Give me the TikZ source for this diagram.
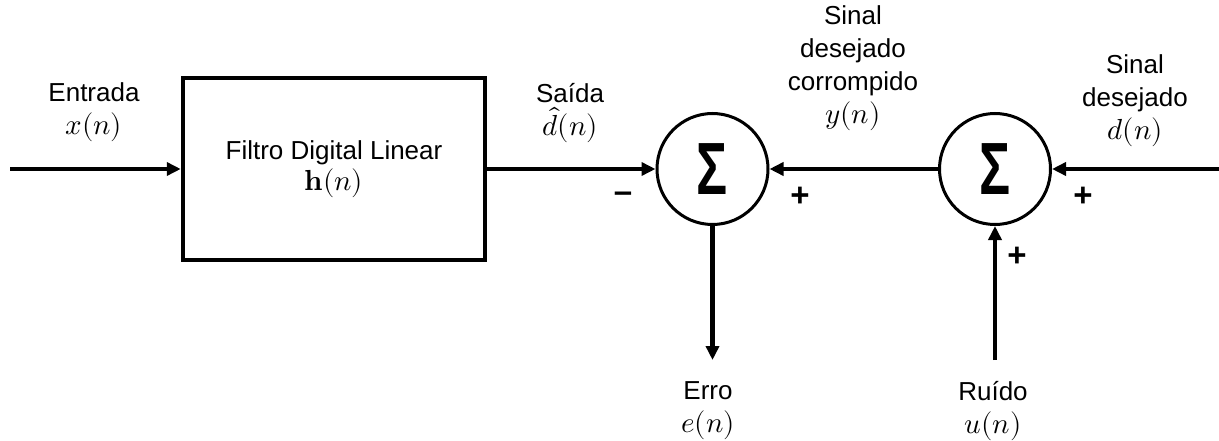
\documentclass[tikz,border=0pt]{standalone}
\usepackage{unicode-math}
\setmainfont{Liberation Sans}
\setmathfont{Latin Modern Math}
\usetikzlibrary{arrows.meta}
\newcommand\mth[1]{{\fontsize{29}{33}\selectfont$#1$}}
\tikzset{
  lbl/.style={align=center,inner sep=0pt,font=\fontsize{26}{33}\selectfont},
  sgn/.style={inner sep=0pt,font=\fontsize{33}{36}\selectfont\bfseries},
  blk/.style={draw,line width=4.5pt,minimum width=302pt,minimum height=182pt,inner sep=0pt,align=center,font=\fontsize{26}{33}\selectfont},
  summer/.style={draw,circle,line width=3pt,minimum size=111pt,inner sep=0pt,font=\fontsize{74}{74}\selectfont\bfseries},
  sig/.style={line width=4.5pt,-{Triangle[length=14pt,width=13pt]}},
  wire/.style={line width=4.5pt}
}
\begin{document}
\begin{tikzpicture}[x=1pt,y=-1pt]
\useasboundingbox (0,0) rectangle (1219,441);
\node[blk] (filt) at (334,169) {Filtro Digital Linear\\[-2pt]\mth{\symbf{h}(n)}};
\node[summer] (s1) at (712.5,169) {\raisebox{-2pt}{\scalebox{0.7}[1]{Σ}}};
\node[summer] (s2) at (995,169) {\raisebox{-2pt}{\scalebox{0.7}[1]{Σ}}};
\coordinate (xin) at (10,169);
\coordinate (din) at (1219,169);
\coordinate (eout) at (712.5,360);
\coordinate (uin) at (995,360);
\draw[sig] (xin) -- (filt.west);
\draw[sig] (filt.east) -- (s1.west);
\draw[sig] (s2.west) -- (s1.east);
\draw[sig] (din) -- (s2.east);
\draw[sig] (s1.south) -- (eout);
\draw[sig] (uin) -- (s2.south);
\node[lbl,anchor=south] (lin) at (94,142) {Entrada\\\mth{x(n)}};
\node[lbl,anchor=south] (lout) at (570,143) {Saída\\\mth{\hat{d}(n)}};
\node[lbl,anchor=south] (ly) at (853,131) {Sinal\\desejado\\corrompido\\\mth{y(n)}};
\node[lbl,anchor=south] (ld) at (1135,147) {Sinal\\desejado\\\mth{d(n)}};
\node[lbl,anchor=north] (le) at (708,381) {Erro\\\mth{e(n)}};
\node[lbl,anchor=north] (lu) at (993,381) {Ruído\\\mth{u(n)}};
\node[sgn] (m1) at (623,197) {–};
\node[sgn] (p1) at (800,197) {+};
\node[sgn] (p2) at (1083,197) {+};
\node[sgn] (p3) at (1017,257) {+};
\end{tikzpicture}
\end{document}
